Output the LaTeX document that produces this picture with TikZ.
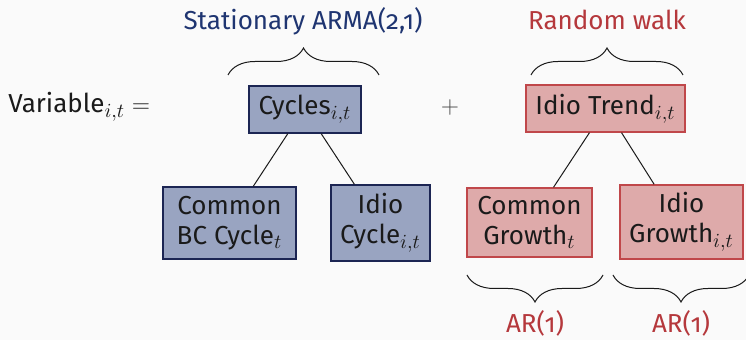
\documentclass[tikz,border=0pt]{standalone}
\usepackage{fontspec}
\setmainfont[Numbers=OldStyle]{Fira Sans}
\DeclareMathSizes{13}{13}{10}{7}
\usetikzlibrary{calc,decorations.pathreplacing}
\definecolor{bgcol}{HTML}{FAFAFA}
\definecolor{navyhead}{HTML}{1F3571}
\definecolor{redhead}{HTML}{B5383C}
\definecolor{cycfill}{HTML}{99A4C1}
\definecolor{cycline}{HTML}{1C2553}
\definecolor{trfill}{HTML}{DEAAAA}
\definecolor{trline}{HTML}{C0474A}
\definecolor{inkcol}{HTML}{1A1A1A}
\begin{document}
\begin{tikzpicture}[x=0.5pt,y=-0.5pt,
  font=\fontsize{13}{15}\selectfont,
  cycbox/.style={draw=cycline, fill=cycfill, line width=0.7pt, inner sep=0pt, align=center, text=inkcol},
  trbox/.style={draw=trline, fill=trfill, line width=0.7pt, inner sep=0pt, align=center, text=inkcol},
  link/.style={draw=inkcol, line width=0.5pt},
  bracestyle/.style={draw=inkcol, line width=0.5pt, decorate, decoration={brace, amplitude=13.5pt}},
  headlbl/.style={anchor=base, inner sep=0pt}]
  % page
  \fill[bgcol] (0,0) rectangle (746,340);
  \useasboundingbox (0,0) rectangle (746,340);

  % left-hand side and the plus sign
  \node[anchor=base west, inner sep=0pt, text=inkcol] (var) at (8,113) {$\mbox{Variable}_{i,t} =$};
  \node[inner sep=0pt, text=inkcol!80] (plus) at (450,108) {$+$};

  % cycle tree
  \node[cycbox, minimum width=56pt, minimum height=23.5pt] (cyc) at (305,109.5) {Cycles$_{i,t}$};
  \node[cycbox, minimum width=66.5pt, minimum height=36pt] (cbc) at (229.5,223) {Common\\BC Cycle$_t$};
  \node[cycbox, minimum width=49.5pt, minimum height=38pt] (icyc) at (380.5,223) {Idio\\Cycle$_{i,t}$};
  \draw[link] ($(cyc.south west)!0.348!(cyc.south east)$) -- ($(cbc.north west)!0.677!(cbc.north east)$);
  \draw[link] ($(cyc.south west)!0.643!(cyc.south east)$) -- ($(icyc.north west)!0.24!(icyc.north east)$);

  % trend tree
  \node[trbox, minimum width=79.5pt, minimum height=23.5pt] (trend) at (605.5,108.5) {Idio Trend$_{i,t}$};
  \node[trbox, minimum width=62.5pt, minimum height=34.5pt] (cgr) at (529.5,222.5) {Common\\Growth$_t$};
  \node[trbox, minimum width=61.5pt, minimum height=37pt] (igr) at (681.5,222) {Idio\\Growth$_{i,t}$};
  \draw[link] ($(trend.south west)!0.40!(trend.south east)$) -- ($(cgr.north west)!0.69!(cgr.north east)$);
  \draw[link] ($(trend.south west)!0.60!(trend.south east)$) -- ($(igr.north west)!0.28!(igr.north east)$);

  % braces over the two components
  \coordinate (b1l) at (228,75);  \coordinate (b1r) at (379,75);
  \coordinate (b2l) at (531,75);  \coordinate (b2r) at (683,75);
  \draw[bracestyle] (b1l) -- (b1r);
  \draw[bracestyle] (b2l) -- (b2r);
  \node[headlbl, text=navyhead] (arma) at (303,30) {Stationary ARMA(2,1)};
  \node[headlbl, text=redhead] (rw) at (607,30) {Random walk};

  % braces under the growth terms
  \coordinate (b3l) at (467,275); \coordinate (b3r) at (603,275);
  \coordinate (b4l) at (613,275); \coordinate (b4r) at (749,275);
  \draw[bracestyle] (b3r) -- (b3l);
  \draw[bracestyle] (b4r) -- (b4l);
  \node[headlbl, text=redhead] (ar1) at (535,333) {AR(1)};
  \node[headlbl, text=redhead] (ar2) at (681,333) {AR(1)};
\end{tikzpicture}
\end{document}
